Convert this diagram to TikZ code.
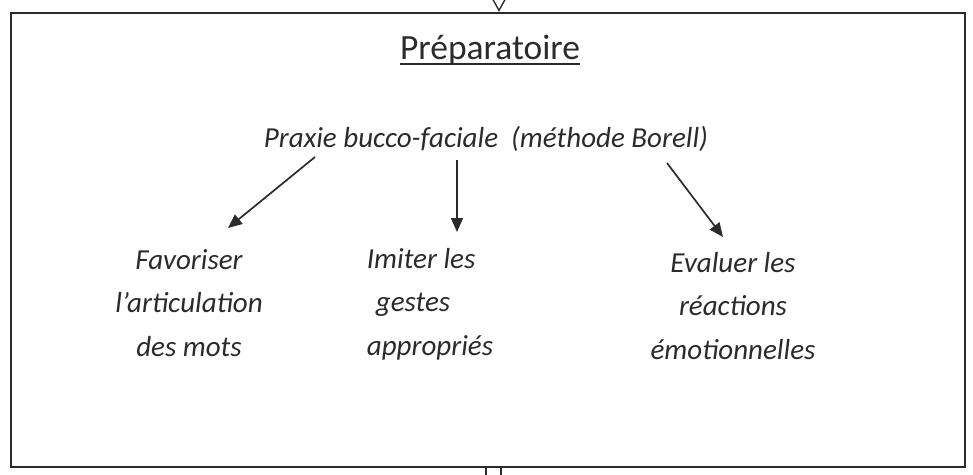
\documentclass[tikz,border=0pt]{standalone}
\usepackage{fontspec}
\setmainfont{Carlito}
\usetikzlibrary{arrows.meta,calc}
\definecolor{ink}{HTML}{2B2B2B}
\begin{document}
\begin{tikzpicture}[x=1pt,y=-1pt,
  frame/.style={draw=ink,line width=2.2pt},
  lbl/.style={inner sep=0pt,text=ink,font=\fontsize{29}{43.5}\selectfont\itshape},
  ttl/.style={inner sep=0pt,text=ink,font=\fontsize{35.5}{40}\selectfont},
  arr/.style={draw=ink,line width=1.7pt,-{Triangle[length=14pt,width=12pt]}},
  stub/.style={draw=ink,line width=1.4pt},
  ]
\useasboundingbox (0,0) rectangle (973,474);
\node[frame,minimum width=954pt,minimum height=454pt,inner sep=0pt] (box) at (488,240) {};
% incoming arrow at top
\coordinate (topin) at (499,-40);
\draw[stub,-{Triangle[open,length=22pt,width=24pt]}] (topin) -- (box.north -| topin);
% outgoing stub at bottom
\coordinate (b1) at (486,490);
\coordinate (b2) at (501,490);
\draw[stub] (box.south -| b1) -- (b1);
\draw[stub] (box.south -| b2) -- (b2);
% title
\node[ttl,anchor=base] (title) at (490,59) {Préparatoire};
\draw[ink,line width=1.5pt] ([yshift=-5pt]title.base west) -- ([yshift=-5pt]title.base east);
% main line
\node[lbl,anchor=base] (praxie) at (486,147) {Praxie bucco-faciale\ \ (méthode Borell)};
% items (base anchor = last line)
\node[lbl,anchor=base,align=center] (favo) at (189,356) {Favoriser\\l’articulation\\des mots};
\node[lbl,anchor=base,align=left] (imit) at (430,355) {Imiter les\\\hspace*{9pt}gestes\\appropriés};
\node[lbl,anchor=base,align=center] (eval) at (733,359) {Evaluer les\\réactions\\émotionnelles};
% arrows
\draw[arr] ($(praxie.base)+(-171,10)$) -- ($(favo.base)+(39,-128)$);
\draw[arr] ($(praxie.base)+(-29,13)$) -- ($(imit.base)+(27,-123)$);
\draw[arr] ($(praxie.base)+(181,16)$) -- ($(eval.base)+(-10,-122)$);
\end{tikzpicture}
\end{document}
